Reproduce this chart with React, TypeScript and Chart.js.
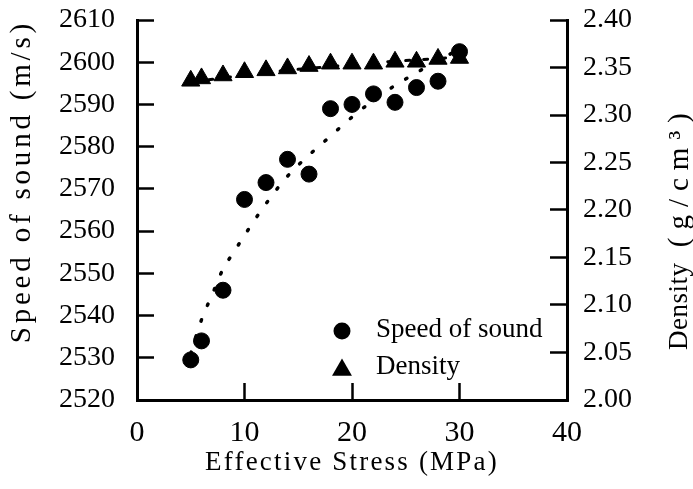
import { useEffect, useRef } from 'react';
import { Chart, registerables } from 'chart.js';

Chart.register(...registerables);

// ---------- data ----------
const stressMPa = [5, 6, 8, 10, 12, 14, 16, 18, 20, 22, 24, 26, 28, 30];
const speedOfSound = [2529.5, 2534, 2546, 2567.5, 2571.5, 2577, 2573.5, 2589, 2590, 2592.5, 2590.5, 2594, 2595.5, 2602.5];
const density = [2.336, 2.3385, 2.3416, 2.345, 2.347, 2.349, 2.3515, 2.354, 2.354, 2.354, 2.356, 2.356, 2.359, 2.36];

// dotted trend lines
const speedTrendX = [5, 6, 7, 8, 9, 10, 12, 14, 16, 18, 20, 22, 24, 26, 28, 30];
const speedTrendY = [2531, 2539, 2545, 2551, 2555, 2559, 2566.5, 2573, 2578, 2582.5, 2587, 2591, 2594.5, 2597.5, 2600.5, 2603];
const densityTrendX = [5, 8, 10, 14, 18, 22, 26, 30];
const densityTrendY = [2.335, 2.339, 2.342, 2.347, 2.351, 2.355, 2.358, 2.361];

// axes ticks
const xTicks = [0, 10, 20, 30, 40];
const speedTicks = [2520, 2530, 2540, 2550, 2560, 2570, 2580, 2590, 2600, 2610];
const densityTicks = [2.0, 2.05, 2.1, 2.15, 2.2, 2.25, 2.3, 2.35, 2.4];

const xTitle = 'Effective Stress (MPa)';
const speedTitle = 'Speed of sound (m/s)';
const densityTitleMain = 'Density';
const densityTitleUnit = ' (g/cm³)';
const speedLabel = 'Speed of sound';
const densityLabel = 'Density';

const FONT = "'Liberation Serif', 'Times New Roman', serif";

const titleSpacing: Record<string, string> = { x: '2.2px', y: '3.8px' };

const titleSpacingPlugin = {
  id: 'titleSpacing',
  beforeDraw(chart: any) {
    Object.values(chart.scales).forEach((s: any) => {
      if (s.__patched) return;
      const orig = s.drawTitle.bind(s);
      s.drawTitle = () => {
        const c = s.ctx;
        const prev = c.letterSpacing;
        c.letterSpacing = titleSpacing[s.id] || '0px';
        orig();
        c.letterSpacing = prev || '0px';
      };
      s.__patched = true;
    });
  },
};

const extrasPlugin = {
  id: 'extras',
  afterDraw(chart: any) {
    const ctx = chart.ctx;
    const y1 = chart.scales.y1;
    // right-hand title, reading bottom-to-top
    ctx.save();
    ctx.fillStyle = '#000';
    ctx.textAlign = 'left';
    ctx.textBaseline = 'middle';
    ctx.translate(y1.right - 13, 350);
    ctx.rotate(-Math.PI / 2);
    ctx.font = `27px ${FONT}`;
    ctx.letterSpacing = '0.5px';
    ctx.fillText(densityTitleMain, 0, 0);
    const w = ctx.measureText(densityTitleMain).width;
    ctx.font = `29px ${FONT}`;
    ctx.letterSpacing = '8px';
    ctx.fillText(densityTitleUnit, w, 0);
    ctx.restore();

    // legend inside plot area
    const items = [
      { label: chart.data.datasets[0].label, style: 'circle', y: 331 },
      { label: chart.data.datasets[1].label, style: 'triangle', y: 368 },
    ];
    ctx.save();
    ctx.fillStyle = '#000';
    ctx.font = `27px ${FONT}`;
    ctx.textAlign = 'left';
    ctx.textBaseline = 'middle';
    items.forEach((it) => {
      const mx = 342;
      if (it.style === 'circle') {
        ctx.beginPath();
        ctx.arc(mx, it.y, 8.5, 0, Math.PI * 2);
        ctx.fill();
      } else {
        const r = 11.5;
        ctx.beginPath();
        ctx.moveTo(mx, it.y - r * 0.75 - 1);
        ctx.lineTo(mx + r * Math.sin((2 * Math.PI) / 3), it.y + r * 0.75 - 1);
        ctx.lineTo(mx - r * Math.sin((2 * Math.PI) / 3), it.y + r * 0.75 - 1);
        ctx.closePath();
        ctx.fill();
      }
      ctx.fillText(it.label, 376, it.y - 1);
    });
    ctx.restore();
  },
};

export default function App() {
  const ref = useRef<HTMLCanvasElement>(null);
  useEffect(() => {
    document.body.style.margin = '0';
    const pts = (xs: number[], ys: number[]) => xs.map((x, i) => ({ x, y: ys[i] }));
    const tickFont = { family: FONT, size: 28 };
    const chart = new Chart(ref.current as HTMLCanvasElement, {
      type: 'scatter',
      data: {
        datasets: [
          {
            label: speedLabel,
            data: pts(stressMPa, speedOfSound),
            yAxisID: 'y',
            pointStyle: 'circle',
            pointRadius: 8,
            borderWidth: 1,
            backgroundColor: '#000',
            borderColor: '#000',
            showLine: false,
          },
          {
            label: densityLabel,
            data: pts(stressMPa, density),
            yAxisID: 'y1',
            pointStyle: 'triangle',
            pointRadius: 10.5,
            borderWidth: 1,
            backgroundColor: '#000',
            borderColor: '#000',
            showLine: false,
          },
          {
            label: 'speed trend',
            data: pts(speedTrendX, speedTrendY),
            yAxisID: 'y',
            showLine: true,
            pointRadius: 0,
            borderColor: '#000',
            borderWidth: 3.5,
            borderDash: [1.5, 15.5],
            borderCapStyle: 'round',
            cubicInterpolationMode: 'monotone',
          },
          {
            label: 'density trend',
            data: pts(densityTrendX, densityTrendY),
            yAxisID: 'y1',
            showLine: true,
            pointRadius: 0,
            borderColor: '#000',
            borderWidth: 3,
            borderDash: [4, 14],
            borderCapStyle: 'round',
            cubicInterpolationMode: 'monotone',
          },
        ],
      } as any,
      options: {
        responsive: false,
        animation: false,
        devicePixelRatio: 1,
        events: [],
        layout: { padding: { top: 20, left: 0, right: 0, bottom: 0 } },
        plugins: { legend: { display: false }, tooltip: { enabled: false } },
        scales: {
          x: {
            type: 'linear',
            position: 'bottom',
            min: 0,
            max: 40,
            afterBuildTicks: (s: any) => {
              s.ticks = xTicks.map((v) => ({ value: v }));
            },
            afterFit: (s: any) => {
              s.height = 89;
            },
            ticks: { font: { family: FONT, size: 30 }, color: '#000', padding: 32, maxRotation: 0, autoSkip: false },
            grid: { drawOnChartArea: false, tickLength: -17, tickWidth: 2.5, tickColor: '#000' },
            border: { color: '#000', width: 3 },
            title: {
              display: true,
              text: xTitle,
              color: '#000',
              font: { family: FONT, size: 27 },
              padding: { top: 0, bottom: 10 },
            },
          },
          y: {
            type: 'linear',
            position: 'left',
            min: 2520,
            max: 2610,
            afterBuildTicks: (s: any) => {
              s.ticks = speedTicks.map((v) => ({ value: v }));
            },
            afterFit: (s: any) => {
              s.width = 137;
              s.paddingTop = 0;
              s.paddingBottom = 0;
            },
            ticks: {
              font: tickFont,
              color: '#000',
              padding: 39,
              autoSkip: false,
              callback: (v: any) => String(v),
            },
            grid: { drawOnChartArea: false, tickLength: -17, tickWidth: 2.5, tickColor: '#000' },
            border: { color: '#000', width: 3 },
            title: {
              display: true,
              text: speedTitle,
              align: 'end',
              color: '#000',
              font: { family: FONT, size: 29 },
              padding: { top: 5, bottom: 0 },
            },
          },
          y1: {
            type: 'linear',
            position: 'right',
            min: 2.0,
            max: 2.4,
            afterBuildTicks: (s: any) => {
              s.ticks = densityTicks.map((v) => ({ value: v }));
            },
            afterFit: (s: any) => {
              s.width = 126;
              s.paddingTop = 0;
              s.paddingBottom = 0;
            },
            ticks: {
              font: tickFont,
              color: '#000',
              padding: 33,
              autoSkip: false,
              callback: (v: any) => Number(v).toFixed(2),
            },
            grid: { drawOnChartArea: false, tickLength: -17, tickWidth: 2.5, tickColor: '#000' },
            border: { color: '#000', width: 3 },
          },
        },
      } as any,
      plugins: [titleSpacingPlugin, extrasPlugin],
    });
    return () => chart.destroy();
  }, []);
  return (
    <div style={{ width: 693, height: 489 }}>
      <canvas ref={ref} width={693} height={489} style={{ display: 'block' }} />
    </div>
  );
}
